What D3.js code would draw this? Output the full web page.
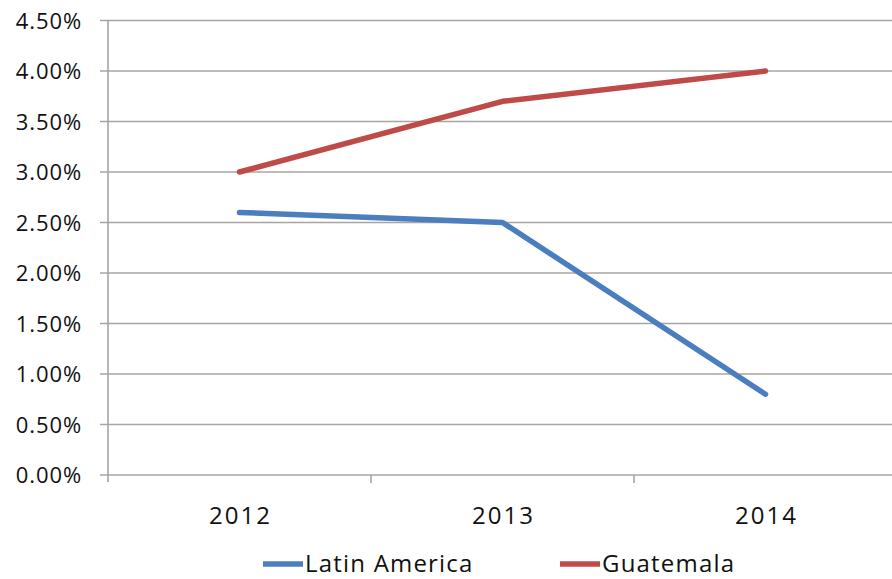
<!DOCTYPE html>
<html><head><meta charset="utf-8">
<script src="https://cdn.jsdelivr.net/npm/d3@7"></script>
<style>body{margin:0;background:#fff}svg{display:block}</style>
</head><body>
<svg id="c" width="892" height="579"></svg>
<script>
const categories = ["2012", "2013", "2014"];
const latinAmerica = [0.026, 0.025, 0.008];
const guatemala = [0.030, 0.037, 0.040];
const yTicks = [0, 0.005, 0.01, 0.015, 0.02, 0.025, 0.03, 0.035, 0.04, 0.045];
const seriesNames = ["Latin America", "Guatemala"];
const colors = ["#4A7EBF", "#BE4B48"];

const svg = d3.select("#c");
const plotL = 108, plotR = 897, plotT = 20.5, plotB = 475;
const font = "'Open Sans', 'Noto Sans', sans-serif";

const x = d3.scaleBand().domain(categories).range([plotL, plotR]);
const y = d3.scaleLinear().domain([0, 0.045]).range([plotB, plotT]);

// gridlines
svg.append("g").selectAll("line").data(yTicks).join("line")
  .attr("x1", plotL - 8).attr("x2", 892)
  .attr("y1", d => y(d)).attr("y2", d => y(d))
  .attr("stroke", "#a9a4a2").attr("stroke-width", 1.6);

// y axis line
svg.append("line").attr("x1", plotL).attr("x2", plotL).attr("y1", plotT).attr("y2", plotB + 7)
  .attr("stroke", "#a9a4a2").attr("stroke-width", 1.6);

// x ticks at band boundaries
const bounds = categories.slice(1).map(c => x(c)).concat([plotR]);
svg.append("g").selectAll("line").data(bounds).join("line")
  .attr("x1", d => d).attr("x2", d => d).attr("y1", plotB).attr("y2", plotB + 8)
  .attr("stroke", "#a9a4a2").attr("stroke-width", 1.6);

// y labels
svg.append("g").selectAll("text").data(yTicks).join("text")
  .attr("x", 82).attr("y", d => y(d) + 8)
  .attr("text-anchor", "end").attr("font-family", font).attr("font-size", 22)
  .attr("letter-spacing", 0.9).attr("fill", "#111")
  .text(d => d3.format(".2%")(d));

// x labels
svg.append("g").selectAll("text").data(categories).join("text")
  .attr("x", d => x(d) + x.bandwidth() / 2 + 1).attr("y", 524)
  .attr("text-anchor", "middle").attr("font-family", font).attr("font-size", 24)
  .attr("letter-spacing", 2).attr("fill", "#111")
  .text(d => d);

const line = d3.line().x((d, i) => x(categories[i]) + x.bandwidth() / 2).y(d => y(d));
[latinAmerica, guatemala].forEach((s, i) => {
  svg.append("path").attr("d", line(s)).attr("fill", "none")
    .attr("stroke", colors[i]).attr("stroke-width", 5.5)
    .attr("stroke-linecap", "round").attr("stroke-linejoin", "round");
});

// legend
const legendX = [263, 560];
seriesNames.forEach((n, i) => {
  svg.append("line").attr("x1", legendX[i]).attr("x2", legendX[i] + 40)
    .attr("y1", 564).attr("y2", 564).attr("stroke", colors[i]).attr("stroke-width", 5.5);
  svg.append("text").attr("x", legendX[i] + 42).attr("y", 572)
    .attr("font-family", font).attr("font-size", 24).attr("letter-spacing", 1.2)
    .attr("fill", "#111").text(n);
});
</script>
</body></html>
